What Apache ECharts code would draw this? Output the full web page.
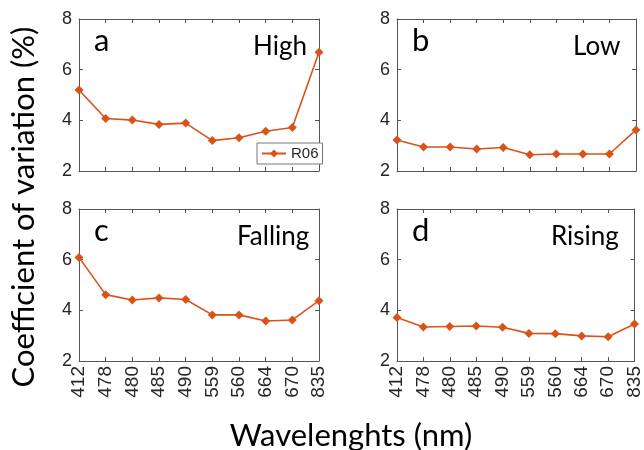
<!DOCTYPE html>
<html>
<head>
<meta charset="utf-8">
<script src="https://cdn.jsdelivr.net/npm/echarts@6/dist/echarts.min.js"></script>
<style>
  html, body { margin: 0; padding: 0; background: #fff; }
  #result { width: 644px; height: 450px; }
</style>
</head>
<body>
<div id="result"></div>
<script>
var wavelengths = ['412', '478', '480', '485', '490', '559', '560', '664', '670', '835'];
var yTicks = [2, 4, 6, 8];
var high = [5.20, 4.07, 4.01, 3.84, 3.89, 3.20, 3.31, 3.57, 3.72, 6.69];
var low = [3.22, 2.95, 2.95, 2.87, 2.93, 2.64, 2.67, 2.67, 2.67, 3.62];
var falling = [6.09, 4.62, 4.41, 4.49, 4.43, 3.82, 3.82, 3.58, 3.62, 4.38];
var rising = [3.72, 3.34, 3.36, 3.38, 3.33, 3.09, 3.08, 2.99, 2.96, 3.46];

var panels = [
	{ letter: 'a', name: 'High', data: high, left: 79, top: 19, width: 240, nameX: 248 },
	{ letter: 'b', name: 'Low', data: low, left: 397, top: 19, width: 239, nameX: 568 },
	{ letter: 'c', name: 'Falling', data: falling, left: 79, top: 209, width: 240, nameX: 232 },
	{ letter: 'd', name: 'Rising', data: rising, left: 397, top: 209, width: 239, nameX: 546 }
];

var axisColor = '#555';
var textColor = '#262626';
var lineColor = '#D95319';

var myChart = echarts.init(document.getElementById('result'));

var grids = [], xAxes = [], yAxes = [], series = [], titles = [];

panels.forEach(function (p, i) {
	var bottomRow = i >= 2;
	grids.push({ left: p.left, top: p.top, width: p.width, height: 152, containLabel: false });

	// bottom category axis
	xAxes.push({
		type: 'category', gridIndex: i, position: 'bottom', data: wavelengths, boundaryGap: false,
		axisLine: { lineStyle: { color: axisColor, width: 1 } },
		axisTick: { inside: true, length: 4, lineStyle: { color: axisColor } },
		axisLabel: {
			show: bottomRow, rotate: 90, margin: 5, interval: 0,
			fontFamily: 'Liberation Sans', fontSize: 19, color: textColor
		},
		splitLine: { show: false }
	});
	// top frame axis
	xAxes.push({
		type: 'category', gridIndex: i, position: 'top', data: wavelengths, boundaryGap: false,
		axisLine: { lineStyle: { color: axisColor, width: 1 } },
		axisTick: { inside: true, length: 4, lineStyle: { color: axisColor } },
		axisLabel: { show: false }
	});
	// left value axis
	yAxes.push({
		type: 'value', gridIndex: i, position: 'left', min: 2, max: 8, interval: 2,
		axisLine: { show: true, lineStyle: { color: axisColor, width: 1 } },
		axisTick: { show: true, inside: true, length: 4, lineStyle: { color: axisColor } },
		axisLabel: {
			margin: 7, fontFamily: 'Liberation Sans', fontSize: 18, color: textColor,
			formatter: function (v) { return yTicks.indexOf(v) >= 0 ? String(v) : ''; }
		},
		splitLine: { show: false }
	});
	// right frame axis
	yAxes.push({
		type: 'value', gridIndex: i, position: 'right', min: 2, max: 8, interval: 2,
		axisLine: { show: true, lineStyle: { color: axisColor, width: 1 } },
		axisTick: { show: true, inside: true, length: 4, lineStyle: { color: axisColor } },
		axisLabel: { show: false },
		splitLine: { show: false }
	});

	series.push({
		name: 'R06', type: 'line', xAxisIndex: i * 2, yAxisIndex: i * 2,
		data: p.data, symbol: 'diamond', symbolSize: 9,
		lineStyle: { color: lineColor, width: 1.6 },
		itemStyle: { color: lineColor },
		animation: false
	});

	titles.push({
		text: p.letter, left: p.left + 10, top: p.top + 1,
		textStyle: { fontFamily: 'Lato', fontSize: 31, fontWeight: 'normal', color: '#000' }
	});
	titles.push({
		text: p.name, left: p.nameX, top: p.top + 10,
		textStyle: { fontFamily: 'Lato', fontSize: 26, fontWeight: 'normal', color: '#000' }
	});
});

var option = {
	backgroundColor: '#fff',
	animation: false,
	title: titles,
	grid: grids,
	xAxis: xAxes,
	yAxis: yAxes,
	series: series,
	legend: {
		data: ['R06'], left: 257, top: 143, padding: [3, 4, 3, 4],
		itemWidth: 24, itemHeight: 10, itemGap: 4,
		borderColor: '#777', borderWidth: 1, borderRadius: 0, backgroundColor: '#fff',
		textStyle: { fontFamily: 'Liberation Sans', fontSize: 15, color: textColor }
	},
	graphic: [{
		type: 'text', x: 24, y: 207, rotation: Math.PI / 2,
		style: {
			text: 'Coefficient of variation (%)', align: 'center', verticalAlign: 'middle',
			fontFamily: 'Lato', fontSize: 31, fill: '#000'
		}
	}, {
		type: 'text', x: 351, y: 436,
		style: {
			text: 'Wavelenghts (nm)', align: 'center', verticalAlign: 'middle',
			fontFamily: 'Lato', fontSize: 31, fill: '#000'
		}
	}]
};

myChart.setOption(option);
</script>
</body>
</html>
